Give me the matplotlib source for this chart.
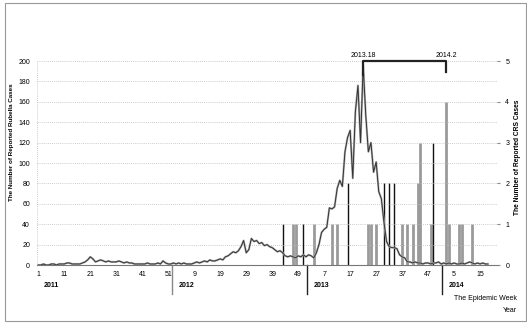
import matplotlib
matplotlib.use("Agg")
import matplotlib.pyplot as plt
from matplotlib.patches import Rectangle

# weekly reported rubella cases, 2011 week 1 .. 2014 week 18
rubella_2011 = [0, 0, 1, 0, 0, 1, 1, 0, 1, 1, 1, 2, 2, 1, 1, 1, 1, 2, 3, 5,
                8, 6, 3, 4, 5, 4, 3, 4, 3, 3, 3, 4, 3, 2, 3, 2, 2, 1, 1, 1,
                1, 1, 2, 1, 1, 1, 2, 1, 4, 2, 1, 1]
rubella_2012 = [2, 1, 2, 1, 2, 1, 1, 1, 2, 3, 2, 3, 4, 3, 5, 4, 4, 5, 6, 5,
                8, 9, 11, 13, 12, 14, 18, 24, 12, 15, 26, 23, 24, 21, 22, 19, 20, 18, 17, 15,
                13, 14, 12, 9, 8, 9, 8, 7, 9, 8, 10, 8]
rubella_2013 = [10, 9, 7, 12, 20, 32, 35, 37, 56, 55, 57, 75, 83, 77, 111, 125, 132, 85, 150, 176,
                120, 196, 147, 111, 120, 91, 101, 72, 65, 42, 23, 18, 17, 17, 16, 10, 8, 7, 3, 3,
                2, 3, 2, 2, 1, 2, 2, 1, 2, 2, 3, 1]
rubella_2014 = [2, 1, 2, 1, 2, 1, 1, 2, 1, 2, 3, 2, 1, 2, 1, 2, 1, 1]

# reported CRS cases: (year, week, cases, shade)
crs_year = [2012, 2012, 2012, 2012, 2013, 2013, 2013, 2013, 2013, 2013, 2013, 2013, 2013,
            2013, 2013, 2013, 2013, 2013, 2013, 2013, 2013, 2014, 2014, 2014, 2014, 2014]
crs_week = [43, 47, 48, 51, 3, 10, 12, 16, 24, 25, 27, 30, 32,
            34, 37, 39, 41, 43, 44, 48, 49, 2, 3, 7, 8, 12]
crs_cases = [1, 1, 1, 1, 1, 1, 1, 2, 1, 1, 1, 2, 2,
             2, 1, 1, 1, 2, 3, 1, 3, 4, 1, 1, 1, 1]
crs_dark = [1, 0, 0, 1, 0, 0, 0, 1, 0, 0, 0, 1, 1,
            1, 0, 0, 0, 0, 0, 0, 1, 0, 0, 0, 0, 0]

week_labels = ["1", "11", "21", "31", "41", "51", "9", "19", "29", "39", "49",
               "7", "17", "27", "37", "47", "5", "15"]
years = ["2011", "2012", "2013", "2014"]
peak_left = (2013, 22)
peak_right = (2014, 2)
peak_texts = ["2013.18", "2014.2"]


def idx(year, week):
    return (year - 2011) * 52 + week - 1


rubella = rubella_2011 + rubella_2012 + rubella_2013 + rubella_2014
xs = list(range(len(rubella)))

plt.rcParams["font.family"] = ["Liberation Sans", "DejaVu Sans"]
fig = plt.figure(figsize=(5.27, 3.26), dpi=100)
ax = fig.add_axes([37 / 527, 61 / 326, 460 / 527, 204 / 326])
ax2 = ax.twinx()

# CRS bars on the right axis
for y, w, c, d in zip(crs_year, crs_week, crs_cases, crs_dark):
    if d:
        ax2.vlines(idx(y, w), 0, c, color="#111111", lw=1.0)
    else:
        ax2.vlines(idx(y, w), 0, c, color="#9a9a9a", lw=2.0)

# rubella line
ax.set_zorder(ax2.get_zorder() + 1)
ax.patch.set_visible(False)
ax.plot(xs, rubella, color="#b0b0b0", lw=1.5)
ax.plot(xs, rubella, color="#333333", lw=0.7)

ax.set_xlim(-0.5, 176.5)
ax.set_ylim(0, 200)
ax2.set_ylim(0, 5)
ax.set_yticks(range(0, 201, 20))
ax.tick_params(axis="y", labelsize=5, length=0, pad=5)
ax2.set_yticks(range(0, 6))
ax2.tick_params(axis="y", labelsize=5, length=2, pad=4, color="#888888")
ax.set_xticks(range(0, 171, 10))
ax.set_xticklabels(week_labels)
ax.tick_params(axis="x", labelsize=5, length=0, pad=4)
ax.grid(axis="y", color="#bbbbbb", ls=(0, (1, 1.5)), lw=0.6)

for sp in ["left", "right", "top"]:
    ax.spines[sp].set_visible(False)
    ax2.spines[sp].set_visible(False)
ax2.spines["bottom"].set_visible(False)
ax.spines["bottom"].set_color("#777777")
ax.spines["bottom"].set_linewidth(0.8)
ax.axvline(-0.5, color="#bbbbbb", ls=(0, (1, 1.5)), lw=0.6)
ax.axvline(176.5, color="#bbbbbb", ls=(0, (1, 1.5)), lw=0.6)

ax.set_ylabel("The Number of Reported Rubella Cases", fontsize=4.5, fontweight="bold")
ax.yaxis.set_label_coords(-0.05, 0.6)
ax2.set_ylabel("The Number of Reported CRS Cases", fontsize=4.8, fontweight="bold")
ax2.yaxis.set_label_coords(1.037, 0.53)

# year dividers and labels
trans = ax.get_xaxis_transform()
for k, yr in enumerate(years):
    x0 = idx(2011 + k, 1) - 0.5
    if k > 0:
        ax.plot([x0, x0], [0, -0.14], transform=trans, color="#222222" if k > 1 else "#888888",
                lw=1.0, clip_on=False)
    ax.text(x0 + 2.5, -0.10, yr, transform=trans, fontsize=5, fontweight="bold",
            ha="left", va="center")

# peak bracket
xl = idx(*peak_left)
xr = idx(*peak_right)
ax.plot([xl, xl, xr, xr], [186, 200, 200, 189], color="#222222", lw=1.6, clip_on=False)
ax.text(xl, 202, peak_texts[0], fontsize=5, ha="center", va="bottom")
ax.text(xr, 202, peak_texts[1], fontsize=5, ha="center", va="bottom")

fig.text(517 / 527, 1 - 298 / 326, "The Epidemic Week", fontsize=5, ha="right", va="center")
fig.text(517 / 527, 1 - 311 / 326, "Year", fontsize=5, ha="right", va="center")

fig.patches.append(Rectangle((5 / 527, 1 - 321 / 326), 521 / 527, 318 / 326,
                             transform=fig.transFigure, fill=False,
                             edgecolor="#999999", lw=0.8))

fig.savefig("out.png", dpi=100)
